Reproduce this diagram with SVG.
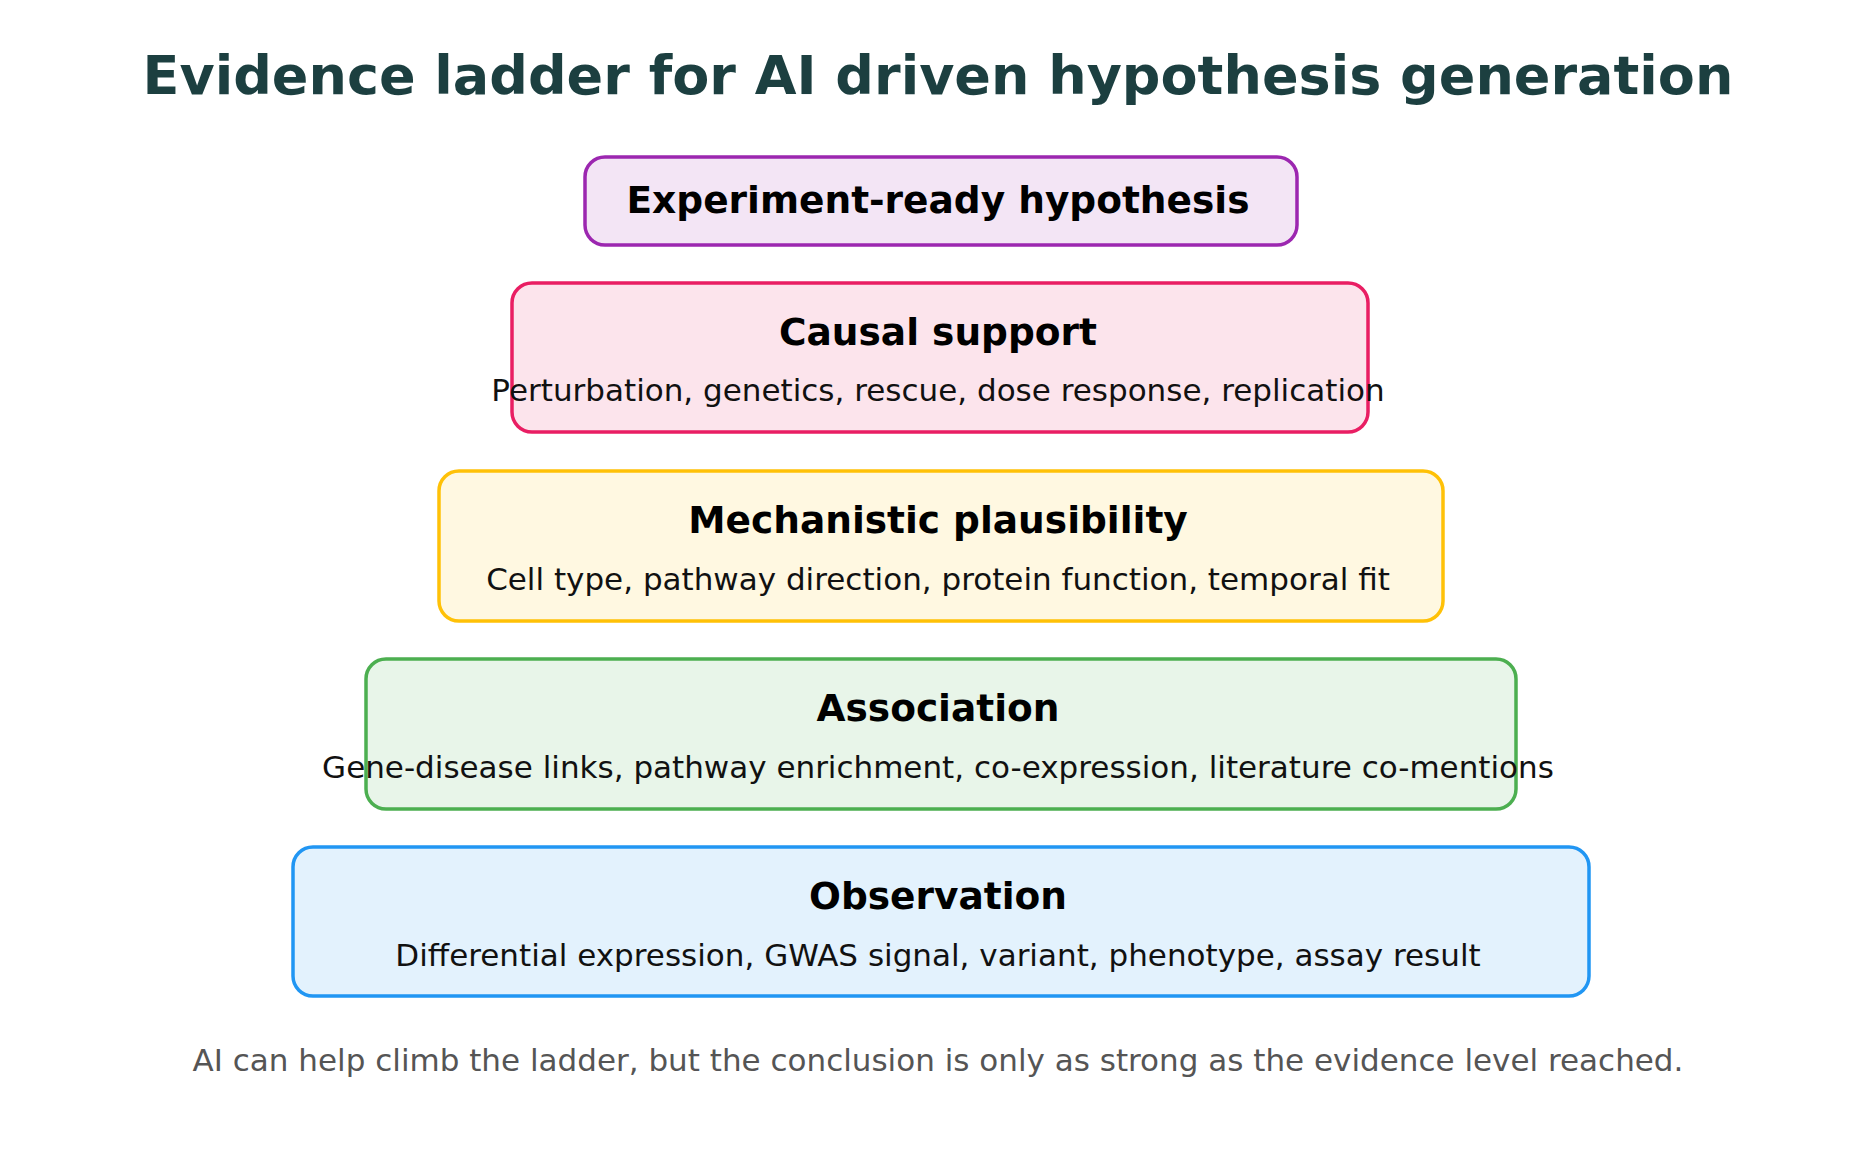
<svg xmlns="http://www.w3.org/2000/svg" width="1875" height="1167" viewBox="0 0 1875 1167">
<style>
text{font-family:"DejaVu Sans",sans-serif;text-anchor:middle}
.t{font-weight:bold;font-size:37.5px;fill:#000}
.s{font-size:31px;fill:#111}
rect{stroke-width:3.5}
</style>
<rect width="1875" height="1167" fill="#fff" stroke="none"/>
<text x="938" y="94" font-size="54" font-weight="bold" fill="#1c3f40">Evidence ladder for AI driven hypothesis generation</text>
<g id="connectors"></g>
<g id="n5"><rect x="585" y="157" width="712" height="88" rx="20" fill="#F3E5F5" stroke="#9C27B0"/><text class="t" x="938" y="213" font-size="33.5">Experiment-ready hypothesis</text></g>
<g id="n4"><rect x="512" y="283" width="856" height="149" rx="20" fill="#FCE4EC" stroke="#E91E63"/><text class="t" x="938" y="345">Causal support</text><text class="s" x="938" y="401">Perturbation, genetics, rescue, dose response, replication</text></g>
<g id="n3"><rect x="439" y="471" width="1004" height="150" rx="20" fill="#FFF8E1" stroke="#FFC107"/><text class="t" x="938" y="533">Mechanistic plausibility</text><text class="s" x="938" y="590">Cell type, pathway direction, protein function, temporal fit</text></g>
<g id="n2"><rect x="366" y="659" width="1150" height="150" rx="20" fill="#E8F5E9" stroke="#4CAF50"/><text class="t" x="938" y="721">Association</text><text class="s" x="938" y="778">Gene-disease links, pathway enrichment, co-expression, literature co-mentions</text></g>
<g id="n1"><rect x="293" y="847" width="1296" height="149" rx="20" fill="#E3F2FD" stroke="#2196F3"/><text class="t" x="938" y="909">Observation</text><text class="s" x="938" y="966">Differential expression, GWAS signal, variant, phenotype, assay result</text></g>
<text x="938" y="1071" font-size="31" fill="#555">AI can help climb the ladder, but the conclusion is only as strong as the evidence level reached.</text>
</svg>
